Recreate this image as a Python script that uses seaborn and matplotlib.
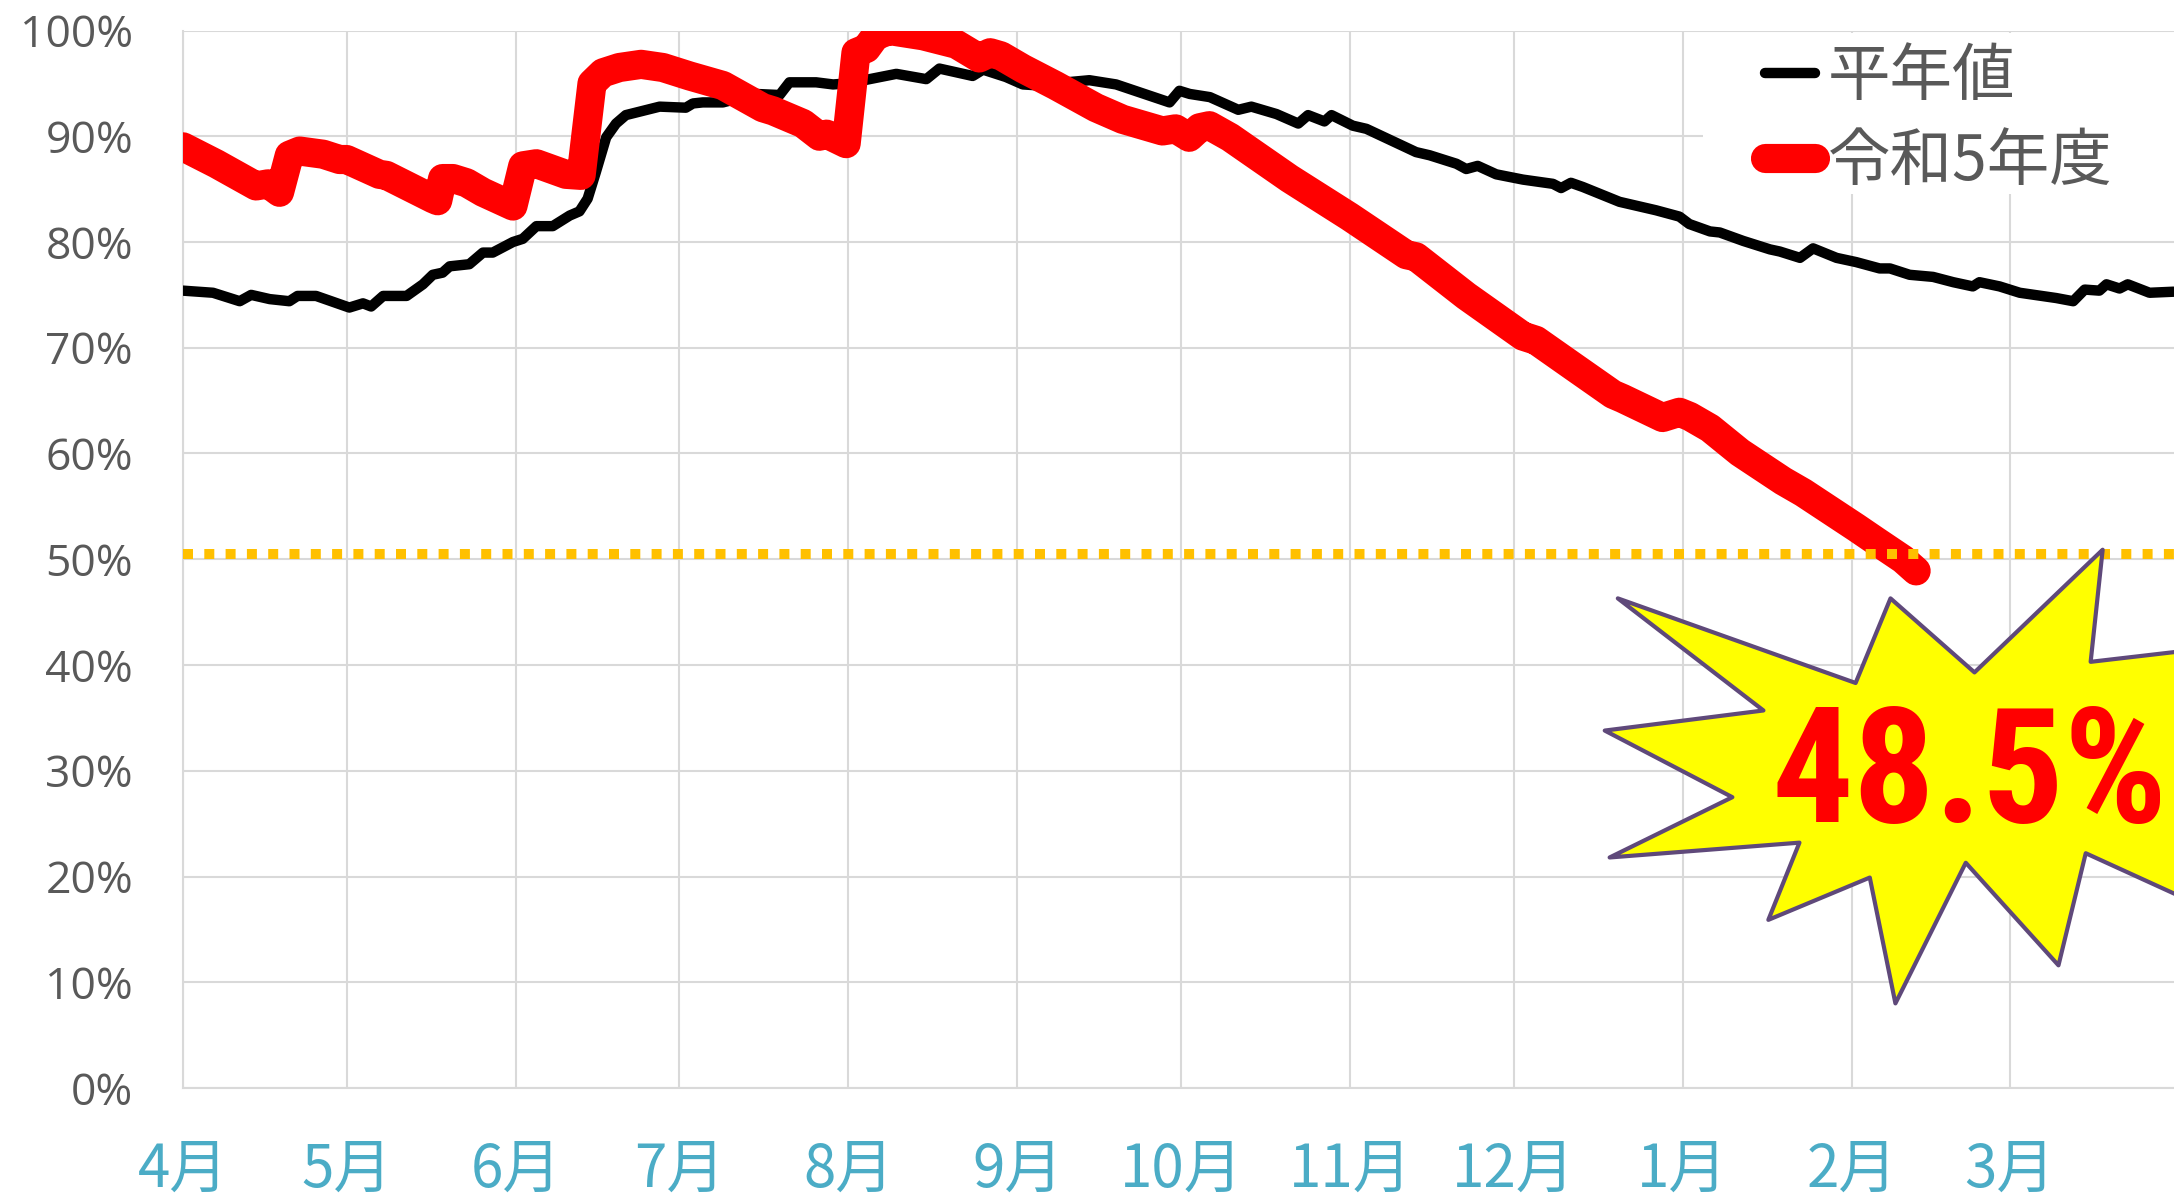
import numpy as np
import pandas as pd
import seaborn as sns
import matplotlib.pyplot as plt
from matplotlib.patches import Polygon, Rectangle

# 平年値 : day of the fiscal year (0 = 4/1) and storage rate (%)
normal_day = [0, 5.5, 10.4, 12.5, 15.9, 19.5, 21, 24.4, 30.5, 33, 34.5, 36.7, 41, 44, 45.8, 47.6,
              48.9, 52.5, 55, 56.8, 60.5, 62.3, 64.8, 67.8, 70.9, 72.7, 74.2, 75.7, 77.6, 79.4,
              81.2, 84.3, 87.4, 92.2, 93.5, 95.3, 99, 105.1, 109.4, 111.2, 116.1, 119.2, 122,
              125.9, 130.8, 136.3, 138.7, 144.8, 146.7, 150.9, 154, 157, 162, 166.2, 171.1,
              180.9, 182.7, 184.6, 188.3, 193.5, 195.9, 200.5, 204.5, 206.3, 209.3, 210.6,
              214.5, 217, 226.1, 228.6, 233.5, 235.3, 237.4, 240.8, 245.7, 251.2, 252.7, 254.5,
              256.7, 263.4, 270.1, 274.4, 276.2, 280, 281.8, 286.1, 291, 292.8, 296.5, 298.9,
              303.2, 306.8, 311.1, 313, 316.6, 320.9, 324.6, 328.2, 329.4, 333.1, 336.8, 343.5,
              346.6, 348.7, 351.4, 352.7, 355.1, 356.6, 360.6, 365]
normal_pct = [75.4, 75.2, 74.4, 75.0, 74.6, 74.4, 74.9, 74.9, 73.8, 74.2, 73.9, 74.9, 74.9, 76.0,
              76.9, 77.1, 77.7, 77.9, 79.0, 79.0, 80.0, 80.3, 81.5, 81.5, 82.5, 82.9, 84.1, 86.6,
              89.9, 91.2, 92.0, 92.4, 92.8, 92.7, 93.1, 93.2, 93.2, 94.0, 93.9, 95.1, 95.1, 94.9,
              95.0, 95.4, 95.9, 95.4, 96.4, 95.7, 96.3, 95.6, 94.9, 94.8, 95.1, 95.3, 94.9, 93.2,
              94.3, 94.0, 93.7, 92.5, 92.8, 92.1, 91.2, 92.0, 91.4, 92.0, 91.0, 90.7, 88.5, 88.2,
              87.4, 86.9, 87.2, 86.4, 85.9, 85.5, 85.1, 85.6, 85.2, 83.8, 83.0, 82.4, 81.7, 81.0,
              80.9, 80.1, 79.3, 79.1, 78.5, 79.4, 78.5, 78.1, 77.5, 77.5, 76.9, 76.7, 76.2, 75.8,
              76.2, 75.8, 75.2, 74.7, 74.4, 75.5, 75.4, 76.0, 75.6, 76.0, 75.2, 75.3]

# 令和5年度
r5_day = [0, 6.1, 13.4, 15.6, 17.7, 19.5, 21.4, 25.7, 28.7, 30, 36, 37.3, 45.8, 46.7, 47.6, 49.5,
          52, 55, 60.5, 62.3, 64.8, 70.2, 73, 75, 77, 80, 84, 88, 92.9, 99, 106.3, 108.2, 113.7,
          116.7, 118, 121.6, 123.4, 125.3, 127, 129.5, 135.7, 141.8, 146, 148, 150, 154, 160,
          167.4, 172.3, 179.6, 182, 184.5, 186.4, 188.2, 192, 202.9, 213.9, 224.3, 226.1, 235.3,
          245.7, 248.1, 255, 262.2, 264, 271.3, 274.4, 276.3, 280, 285.5, 293.4, 297.1, 306.8,
          310.5, 315.4, 317.8]
r5_pct = [89.0, 87.4, 85.3, 85.5, 84.7, 88.2, 88.6, 88.3, 87.8, 87.8, 86.4, 86.3, 84.1, 83.9,
          86.0, 86.0, 85.6, 84.7, 83.4, 87.2, 87.4, 86.4, 86.3, 95.0, 96.0, 96.5, 96.8, 96.5,
          95.7, 94.8, 92.7, 92.4, 91.2, 90.0, 90.2, 89.3, 97.9, 98.3, 99.5, 100.0, 99.5, 98.7,
          97.4, 97.9, 97.6, 96.4, 94.8, 92.7, 91.6, 90.5, 90.7, 89.9, 90.8, 91.0, 89.9, 86.0,
          82.4, 78.8, 78.6, 74.9, 71.1, 70.7, 68.2, 65.6, 65.2, 63.4, 63.9, 63.5, 62.4, 60.1,
          57.4, 56.3, 53.0, 51.7, 50.0, 48.9]

threshold = 50.5
callout_text = "48.5%"
month_labels = ["4月", "5月", "6月", "7月", "8月", "9月", "10月", "11月", "12月", "1月", "2月", "3月"]
y_ticks = list(range(0, 101, 10))

# starburst outline (day, %)
burst_x = [263.1, 306.7, 313.1, 328.5, 352.0, 349.8, 388.1, 375.3, 391.8, 348.9, 343.9, 326.9,
           314.0, 309.3, 290.7, 296.4, 261.6, 284.1, 260.7, 289.8]
burst_y = [46.3, 38.3, 46.3, 39.3, 50.9, 40.3, 42.6, 30.1, 12.1, 22.2, 11.6, 21.3,
           8.0, 19.9, 15.9, 23.2, 21.8, 27.5, 33.8, 35.7]

start = pd.Timestamp("2023-04-01")
month_pos = (pd.date_range(start, "2024-03-01", freq="MS") - start).days

sns.set_style("white")
plt.rcParams['font.family'] = ['Noto Sans CJK JP', 'DejaVu Sans']

W, H = 2174, 1202
fig = plt.figure(figsize=(W / 100, H / 100), dpi=100)
ax = fig.add_axes([183 / W, 1 - 1088 / H, 1996 / W, (1088 - 30.5) / H])

grid_c = "#d9d9d9"
ax.set_axisbelow(True)
ax.grid(True, color=grid_c, lw=1.5)

sns.lineplot(x=normal_day, y=normal_pct, ax=ax, color="black", lw=7.5, label="平年値",
             sort=False, estimator=None, zorder=3, solid_joinstyle="round", solid_capstyle="round")
sns.lineplot(x=r5_day, y=r5_pct, ax=ax, color="#ff0000", lw=21, label="令和5年度",
             sort=False, estimator=None, zorder=4, solid_joinstyle="round", solid_capstyle="round")
ax.axhline(threshold, color="#ffc000", lw=7.2, linestyle=(0, (1, 1.13)),
           dash_capstyle="butt", zorder=5)

ax.add_patch(Polygon(np.column_stack([burst_x, burst_y]), closed=True, facecolor="#ffff00",
                     edgecolor="#5f497a", lw=3, joinstyle="round", zorder=6))
callout = ax.text(291.3, 25.2, callout_text, color="#ff0000", fontsize=126, fontweight="bold",
                  family=["Liberation Sans Narrow", "Roboto Condensed", "DejaVu Sans"],
                  fontstretch="condensed", ha="left", va="baseline", zorder=7)

ax.set_xlim(0, 366)
ax.set_ylim(0, 100)
ax.set_xticks(month_pos)
ax.set_xticklabels(month_labels, fontsize=42, color="#4bacc6")
ax.set_yticks(y_ticks)
ax.set_yticklabels([f"{v}%" for v in y_ticks], fontsize=32, color="#595959",
                   family=["Open Sans", "DejaVu Sans"])
ax.tick_params(axis="x", length=0, pad=37)
ax.tick_params(axis="y", length=0, pad=36)
ax.set_xlabel("")
ax.set_ylabel("")
for side in ["top", "right"]:
    ax.spines[side].set_visible(False)
for side in ["left", "bottom"]:
    ax.spines[side].set_color(grid_c)
    ax.spines[side].set_linewidth(1.5)

# white box behind the legend
ax.add_patch(Rectangle((1703 / W, 1 - 194 / H), 0.3, (194 - 33) / H, transform=fig.transFigure,
                       facecolor="white", edgecolor="none", zorder=2.5))
ax.set_xlim(0, 366)
ax.set_ylim(0, 100)

leg = ax.legend(loc="upper left", bbox_to_anchor=(1765 / W, 1 - 45 / H),
                bbox_transform=fig.transFigure, frameon=False, borderpad=0, borderaxespad=0,
                handlelength=0.8, handletextpad=0.2, labelspacing=0.33,
                prop={"family": "Noto Sans CJK JP", "size": 45}, labelcolor="#595959")

# squeeze the callout so that "48.5%" stays inside the picture
fig.canvas.draw()
bb = callout.get_window_extent()
if bb.width > 396:
    callout.set_fontsize(126 * 396 / bb.width)

fig.savefig("out.png", dpi=100)
